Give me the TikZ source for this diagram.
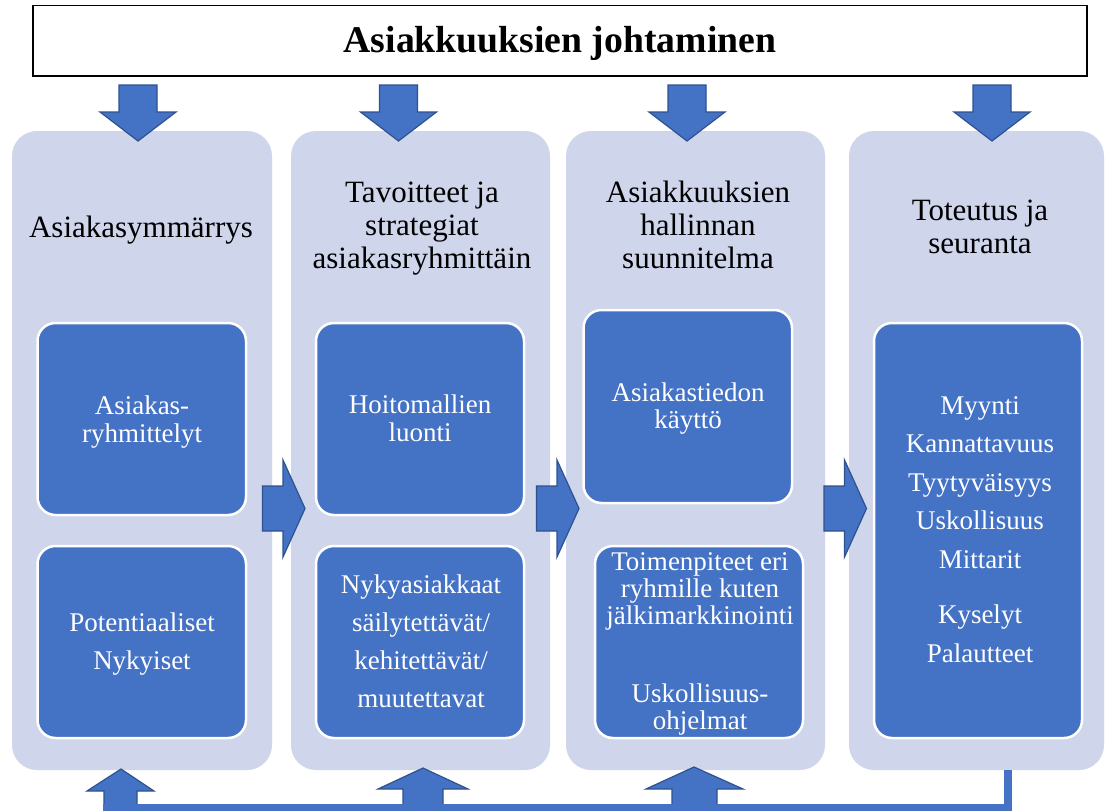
\documentclass[tikz,border=0pt]{standalone}
\usepackage{fontspec}
\setmainfont{Liberation Serif}
\definecolor{lav}{HTML}{CFD5EA}
\definecolor{blu}{HTML}{4472C4}
\definecolor{dblu}{HTML}{2F528F}
\begin{document}
\begin{tikzpicture}[x=1pt,y=-1pt,
  col/.style={fill=lav, rounded corners=25pt, inner sep=0pt},
  innerbox/.style={fill=blu, draw=white, line width=2.5pt, rounded corners=18pt, inner sep=0pt},
  barrow/.style={fill=blu, draw=dblu, line width=1.2pt, line join=miter},
  headtxt/.style={font=\fontsize{31}{33}\selectfont, align=center, anchor=base, inner sep=0pt},
  itxt/.style={text=white, align=center, anchor=base, inner sep=0pt},
  fbline/.style={draw=blu, line width=8pt, line join=miter},
]
\useasboundingbox (0,0) rectangle (1106,811);
\fill[white] (0,0) rectangle (1106,811);

% title
\node[draw=black, line width=1.8pt, minimum width=1054pt, minimum height=70.5pt, inner sep=0pt,
      text height=27pt, text depth=4.5pt, font=\fontsize{37.7}{40}\selectfont\bfseries] (title) at (560,40.75) {Asiakkuuksien johtaminen};

% columns
\node[col, minimum width=260pt, minimum height=639pt] (c1) at (142,450.5) {};
\node[col, minimum width=259pt, minimum height=639pt] (c2) at (420.5,450.5) {};
\node[col, minimum width=259pt, minimum height=639pt] (c3) at (695.5,450.5) {};
\node[col, minimum width=255pt, minimum height=639pt] (c4) at (976.5,450.5) {};

% headings (anchor = baseline of the last line)
\node[headtxt] (h1) at (141,237) {Asiakasymmärrys};
\node[headtxt] (h2) at (422,268) {Tavoitteet ja\\strategiat\\asiakasryhmittäin};
\node[headtxt] (h3) at (698,268) {Asiakkuuksien\\hallinnan\\suunnitelma};
\node[headtxt] (h4) at (980,253) {Toteutus ja\\seuranta};

% inner boxes
\node[innerbox, minimum width=208.5pt, minimum height=192pt] (b1a) at (141.75,419) {};
\node[innerbox, minimum width=208.5pt, minimum height=192pt] (b1b) at (141.75,642) {};
\node[innerbox, minimum width=208pt, minimum height=192pt] (b2a) at (420,419) {};
\node[innerbox, minimum width=208pt, minimum height=192pt] (b2b) at (420,642) {};
\node[innerbox, minimum width=208.5pt, minimum height=193pt] (b3a) at (687.75,406.5) {};
\node[innerbox, minimum width=208pt, minimum height=192pt] (b3b) at (699,642) {};
\node[innerbox, minimum width=208pt, minimum height=415pt] (b4) at (978,530.5) {};

% inner texts (anchor = baseline of the last line)
\node[itxt, font=\fontsize{27}{28}\selectfont] (t1a) at (142,442) {Asiakas-\\ryhmittelyt};
\node[itxt, font=\fontsize{27}{38}\selectfont] (t1b) at (142,669) {Potentiaaliset\\Nykyiset};
\node[itxt, font=\fontsize{27}{28}\selectfont] (t2a) at (420,441) {Hoitomallien\\luonti};
\node[itxt, font=\fontsize{27}{38}\selectfont] (t2b) at (421,707) {Nykyasiakkaat\\säilytettävät/\\kehitettävät/\\muutettavat};
\node[itxt, font=\fontsize{27}{27}\selectfont] (t3a) at (688,428) {Asiakastiedon\\käyttö};
\node[itxt, font=\fontsize{27}{27}\selectfont] (t3b) at (700,729) {Toimenpiteet eri\\ryhmille kuten\\jälkimarkkinointi\\[51pt]Uskollisuus-\\ohjelmat};
\node[itxt, font=\fontsize{27}{38.5}\selectfont] (t4) at (980,662) {Myynti\\Kannattavuus\\Tyytyväisyys\\Uskollisuus\\Mittarit\\[17pt]Kyselyt\\Palautteet};

% down arrows
\foreach \cx in {138,398.5,687,992}{
  \draw[barrow] (\cx-19,85) -- (\cx+19,85) -- (\cx+19,112) -- (\cx+38,112) -- (\cx,141)
     -- (\cx-38,112) -- (\cx-19,112) -- cycle;
}

% right arrows
\foreach \x in {262.5,536.5,824}{
  \draw[barrow] (\x,486) -- (\x+20.5,486) -- (\x+20.5,460) -- (\x+42.5,508.5)
     -- (\x+20.5,557) -- (\x+20.5,531) -- (\x,531) -- cycle;
}

% up arrows
\draw[barrow] (104,808) -- (104,791) -- (87,791) -- (121,769) -- (154,791) -- (137,791) -- (137,808) -- cycle;
\draw[barrow] (403,808) -- (403,789) -- (378,789) -- (423,768) -- (468,789) -- (443,789) -- (443,808) -- cycle;
\draw[barrow] (672,808) -- (672,789) -- (646,789) -- (694,767) -- (743,789) -- (717,789) -- (717,808) -- cycle;

% feedback line
\coordinate (fbA) at (1007.5,770);
\coordinate (fbB) at (1007.5,808);
\coordinate (fbC) at (103,808);
\draw[fbline] (c4.south -| fbA) -- (fbB) -- (fbC);
\end{tikzpicture}
\end{document}
